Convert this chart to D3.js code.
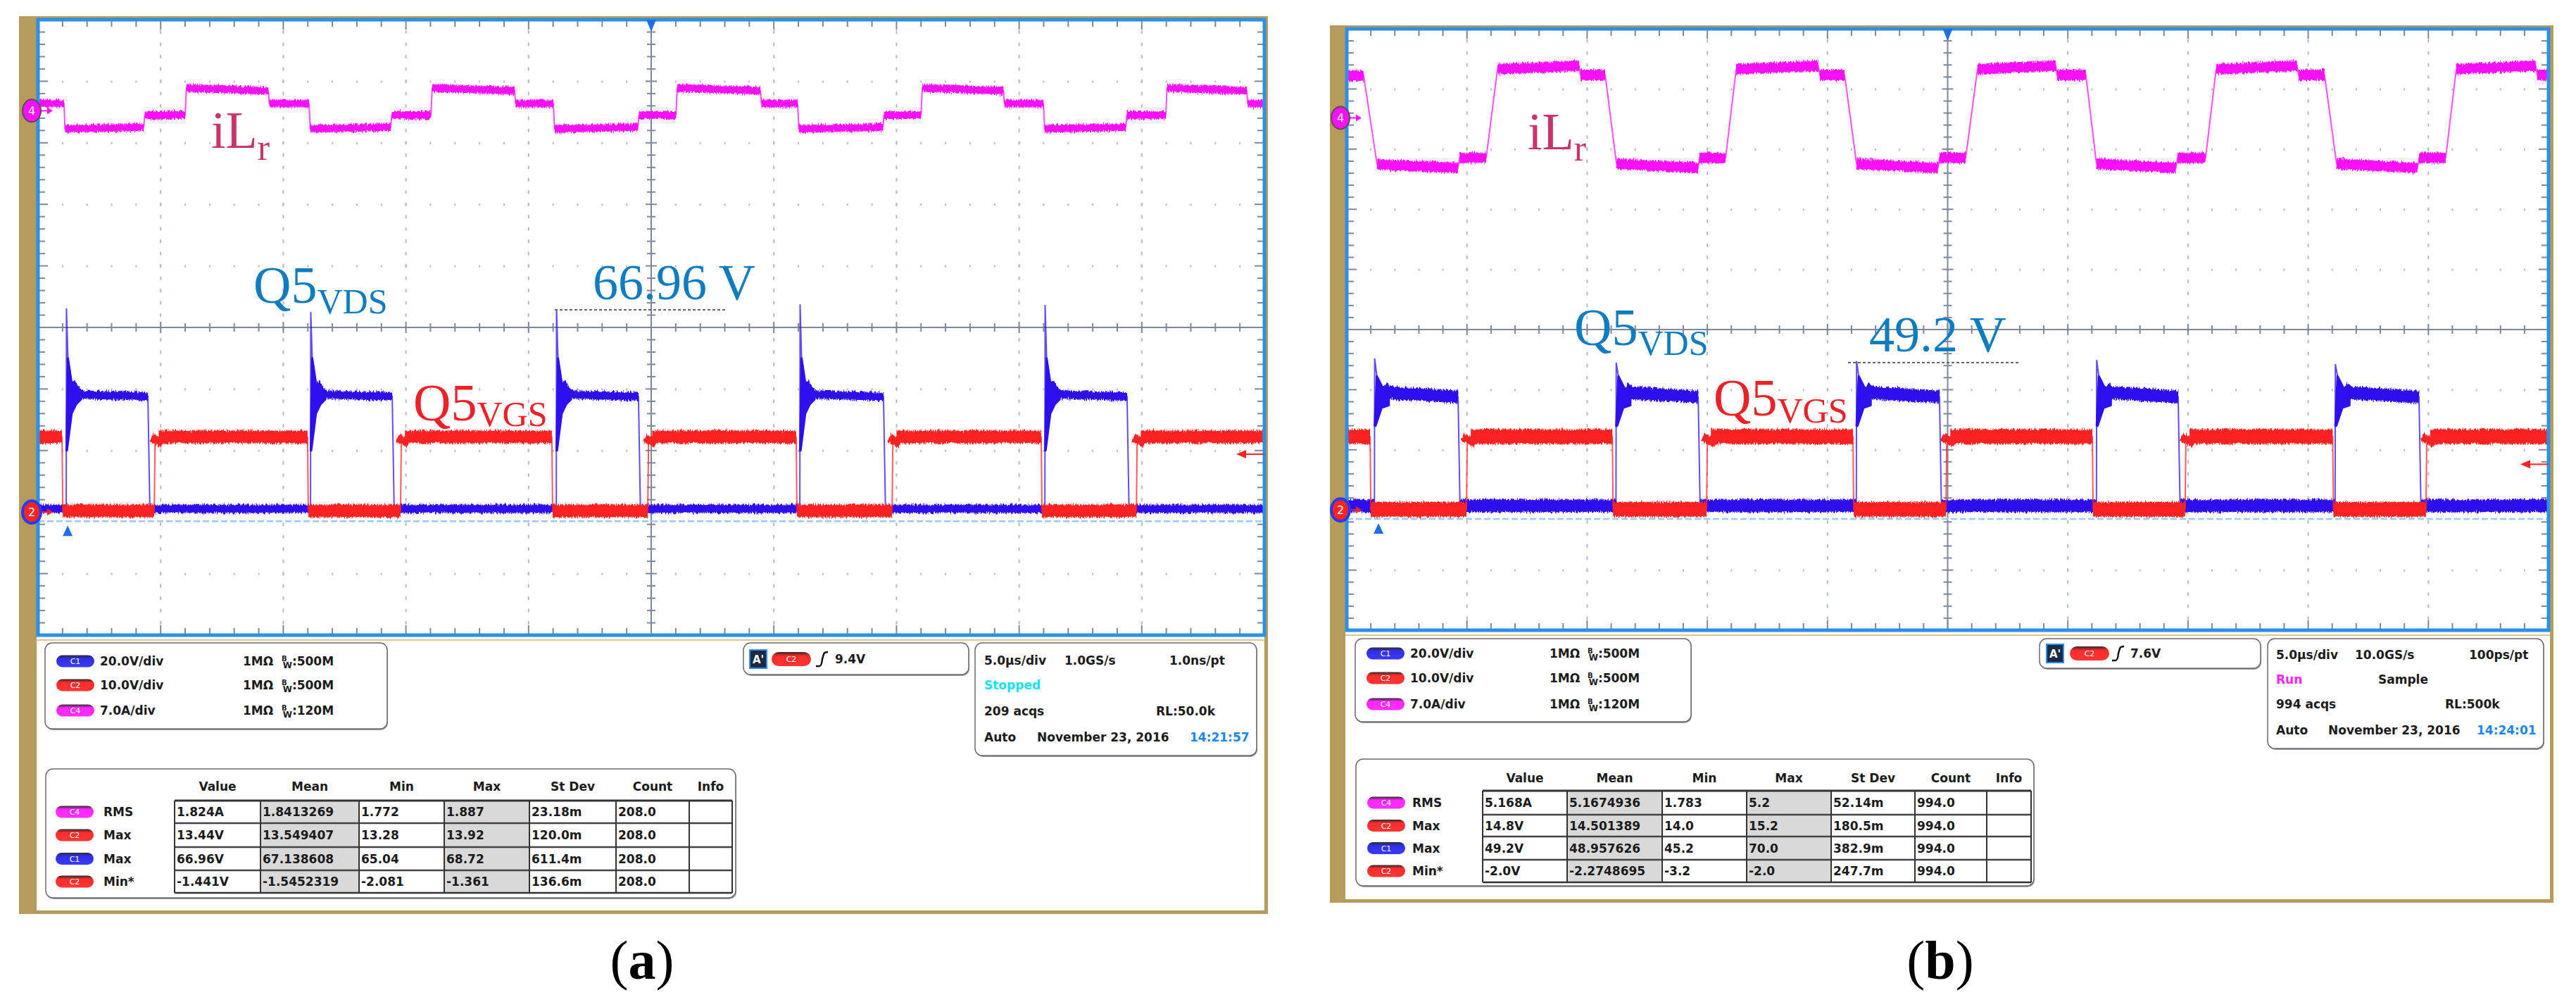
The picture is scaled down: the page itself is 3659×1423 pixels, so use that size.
<!DOCTYPE html>
<html><head><meta charset="utf-8">
<script src="https://cdn.jsdelivr.net/npm/d3@7"></script>
<style>html,body{margin:0;padding:0;background:#fff}svg{display:block}</style>
</head><body>
<script>
// ================= DATA =================
const timeDomain = [0, 50];             // µs across the screen (5.0 µs/div, 10 div)
const channelScale = {C1: 20, C2: 10, C4: 7};   // V/div, V/div, A/div
const channelOffsetDiv = {C1: -3.0, C2: -3.0, C4: 3.52};

// ---- panel (a) ----
const iLrA = [[0,0.85],[1.06,0.85],[1.1,-2.05],[4.31,-1.85],[4.35,-0.5],[6.0,-0.5],[6.05,2.6],[9.39,2.3],[9.43,0.82],[11.05,0.82],
 [11.1,-2.05],[14.38,-1.85],[14.42,-0.5],[16.02,-0.5],[16.07,2.6],[19.43,2.3],[19.47,0.82],[21.01,0.82],
 [21.06,-2.05],[24.46,-1.85],[24.5,-0.5],[26.01,-0.5],[26.06,2.6],[29.45,2.3],[29.49,0.82],[30.97,0.82],
 [31.02,-2.05],[34.45,-1.85],[34.49,-0.5],[36.0,-0.5],[36.05,2.6],[39.36,2.3],[39.4,0.82],[40.99,0.82],
 [41.04,-2.05],[44.35,-1.85],[44.39,-0.5],[45.98,-0.5],[46.03,2.6],[49.28,2.3],[49.32,0.82],[50,0.82]];
const vdsRiseA = [1.15, 11.11, 21.13, 31.06, 41.05];
const vdsFallA = [4.48, 14.44, 24.48, 34.47, 44.40];
const vdsPeakA = [66.2, 65.0, 66.0, 67.5, 67.3];
const vdsPlateauA = [37.4, 37.6];       // start, end of each plateau (V)
const vdsLowA = 1.1;
const ringUpperA = [[0.07,50],[0.22,42],[0.4,39.5],[0.6,38.2]];
const ringLowerA = [[0.03,20],[0.22,32],[0.4,35],[0.6,36.6]];
const vgsFallA = [0.98, 10.99, 20.95, 30.91, 40.9];
const vgsRiseA = [4.74, 14.78, 24.86, 34.82, 44.78];
const vgsHighA = 12.2, vgsLowA = 0.2;
const trigLevelA = 9.4;

// ---- panel (b) ----
const iLrB = [[0,4.92],[0.70,4.92],[1.26,-5.41],[4.63,-5.82],[4.69,-4.67],[5.80,-4.67],[6.27,5.66],[9.67,6.07],[9.72,5.0],[10.75,5.0],
 [11.22,-5.33],[14.62,-5.82],[14.67,-4.67],[15.76,-4.67],[16.20,5.66],[19.62,6.07],[19.68,5.0],[20.71,5.0],
 [21.21,-5.33],[24.60,-5.82],[24.66,-4.67],[25.75,-4.67],[26.24,5.66],[29.50,6.07],[29.55,5.0],[30.75,5.0],
 [31.19,-5.33],[34.50,-5.82],[34.56,-4.67],[35.73,-4.67],[36.17,5.66],[39.54,6.07],[39.60,5.0],[40.68,5.0],
 [41.18,-5.33],[44.55,-5.82],[44.61,-4.67],[45.72,-4.67],[46.16,5.66],[49.47,6.07],[49.53,5.0],[50,5.0]];
const vdsRiseB = [1.15, 11.2, 21.2, 31.19, 41.12];
const vdsFallB = [4.63, 14.62, 24.66, 34.59, 44.61];
const vdsPeakB = [50.4, 49.0, 49.5, 49.9, 48.5];
const vdsPlateauB = [36.3, 37.6];
const vdsLowB = 1.4;
const ringUpperB = [[0.1,44.5],[0.35,40.5],[0.6,39.0]];
const ringLowerB = [[0.05,28],[0.3,34],[0.6,34.8]];
const vgsFallB = [0.97, 11.05, 21.06, 31.02, 41.02];
const vgsRiseB = [4.98, 14.97, 24.93, 34.88, 44.9];
const vgsHighB = 12.2, vgsLowB = 0.1;
const trigLevelB = 7.6;

// ---- readouts ----
const chanRows = [["C1","20.0V/div","500M"],["C2","10.0V/div","500M"],["C4","7.0A/div","120M"]];
const measHeader = ["Value","Mean","Min","Max","St Dev","Count","Info"];
const measA = [
 ["C4","RMS","1.824A","1.8413269","1.772","1.887","23.18m","208.0",""],
 ["C2","Max","13.44V","13.549407","13.28","13.92","120.0m","208.0",""],
 ["C1","Max","66.96V","67.138608","65.04","68.72","611.4m","208.0",""],
 ["C2","Min*","-1.441V","-1.5452319","-2.081","-1.361","136.6m","208.0",""]];
const measB = [
 ["C4","RMS","5.168A","5.1674936","1.783","5.2","52.14m","994.0",""],
 ["C2","Max","14.8V","14.501389","14.0","15.2","180.5m","994.0",""],
 ["C1","Max","49.2V","48.957626","45.2","70.0","382.9m","994.0",""],
 ["C2","Min*","-2.0V","-2.2748695","-3.2","-2.0","247.7m","994.0",""]];
const acqA = [["5.0µs/div","1.0GS/s","1.0ns/pt"],["Stopped",""],["209 acqs","RL:50.0k"],["Auto","November 23, 2016","14:21:57"]];
const acqB = [["5.0µs/div","10.0GS/s","100ps/pt"],["Run","Sample"],["994 acqs","RL:500k"],["Auto","November 23, 2016","14:24:01"]];
const captions = ["a","b"];

// ================= DRAWING =================
const W = 3659, H = 1423;
const TAN = "#b59b5c", BORDER = "#2e8fe6", GRIDC = "#7e879b", DOTC = "#b4b9c6";
const COL = {C1:"#2d10f0", C2:"#ff2424", C4:"#ff10ff"};
const BADGE = {C1:"#2f2fe6", C2:"#ff2b2b", C4:"#ff26ff"};
const FI = "'DejaVu Sans', Arial, sans-serif";
const FS = "'Liberation Serif','Times New Roman',serif";

const svg = d3.select("body").append("svg").attr("width", W).attr("height", H);
svg.append("rect").attr("width", W).attr("height", H).attr("fill", "#fff");
const defs = svg.append("defs");
Object.keys(BADGE).forEach(k => {
  const gr = defs.append("linearGradient").attr("id","bg"+k).attr("x1",0).attr("x2",0).attr("y1",0).attr("y2",1);
  gr.append("stop").attr("offset","0%").attr("stop-color","#2a2a2a");
  gr.append("stop").attr("offset","28%").attr("stop-color",BADGE[k]);
  gr.append("stop").attr("offset","100%").attr("stop-color",d3.color(BADGE[k]).brighter(0.6));
});
// signal-noise texture for the trace bands (rendering style only)
const flt = defs.append("filter").attr("id","fuzz").attr("filterUnits","userSpaceOnUse")
  .attr("x",0).attr("y",0).attr("width",W).attr("height",H);
flt.append("feTurbulence").attr("type","fractalNoise").attr("baseFrequency","0.7 0.15").attr("numOctaves",2).attr("seed",4).attr("result","t");
flt.append("feColorMatrix").attr("in","t").attr("type","matrix")
  .attr("values","0 0 0 0 0.5  0 1 0 0 0  0 0 1 0 0  0 0 0 0 1").attr("result","m");
flt.append("feDisplacementMap").attr("in","SourceGraphic").attr("in2","m").attr("scale",8)
  .attr("xChannelSelector","R").attr("yChannelSelector","G").attr("result","d");
flt.append("feMerge").call(m => { m.append("feMergeNode").attr("in","d"); });

const panels = [
 {frame:[27,23,1801,1298], innerX:52, grid:[54,28,1796,902],
  iL:iLrA, rise:vdsRiseA, fall:vdsFallA, peak:vdsPeakA, plateau:vdsPlateauA, low:vdsLowA,
  ringU:ringUpperA, ringL:ringLowerA, gFall:vgsFallA, gRise:vgsRiseA, gHigh:vgsHighA, gLow:vgsLowA, trig:trigLevelA,
  sw:{C4:11, C1:12, C2:18}, markT:1.21,
  lbl:{iL:[300,210,17], vds:[360,430,15], val:[842,425,"66.96 V"], vgs:[587,597,8], dash:[788,1033,440]},
  chan:{box:[64,913,550,1035], rows:[939,973,1009], bx:80, tx:142, ox:345, wx:400},
  trg:{box:[1056,913,1376,958], cy:936, ax:1065, bx:1096, ex:1159, tx:1186},
  acq:{box:[1385,913,1785,1073], rows:[938,973,1010,1047], data:acqA,
       xs:[[1398,1512,1661],[1398,0],[1398,1642],[1398,1473,1690]]},
  tab:{box:[65,1092,1045,1275], hy:1117, cols:[248,370,510,631,752,875,979,1040], rows:[1137,1169,1203,1236,1268], bx:79, lx:147, data:measA},
  cap:[912,1390]},
 {frame:[1889,36,3627,1282], innerX:1911, grid:[1913,41,3620,895],
  iL:iLrB, rise:vdsRiseB, fall:vdsFallB, peak:vdsPeakB, plateau:vdsPlateauB, low:vdsLowB,
  ringU:ringUpperB, ringL:ringLowerB, gFall:vgsFallB, gRise:vgsRiseB, gHigh:vgsHighB, gLow:vgsLowB, trig:trigLevelB,
  sw:{C4:15, C1:18, C2:21}, markT:1.32,
  lbl:{iL:[2170,212,16], vds:[2236,490,14], val:[2655,499,"49.2 V"], vgs:[2434,590,10], dash:[2625,2870,515]},
  chan:{box:[1925,907,2402,1025], rows:[928,963,1000], bx:1941, tx:2003, ox:2201, wx:2255},
  trg:{box:[2897,907,3211,949], cy:928, ax:2907, bx:2940, ex:3000, tx:3026},
  acq:{box:[3221,907,3613,1063], rows:[930,965,1000,1037], data:acqB,
       xs:[[3233,3345,3507],[3233,3378],[3233,3473],[3233,3307,3518]]},
  tab:{box:[1926,1078,2889,1258], hy:1105, cols:[2106,2226,2361,2481,2601,2720,2822,2885], rows:[1123,1157,1188,1221,1253], bx:1942, lx:2006, data:measB},
  cap:[2756,1390]}
];

function text(g, x, y, s, o={}) {
  return g.append("text").attr("x",x).attr("y",y).attr("font-family",o.ff||FI)
    .attr("font-size",o.fs||17).attr("font-weight",o.fw||"bold").attr("fill",o.fill||"#1b1b1b")
    .attr("text-anchor",o.anchor||"start").text(s);
}
function box(g, b) {
  const [x0,y0,x1,y1] = b;
  g.append("rect").attr("x",x0+1).attr("y",y0+2).attr("width",x1-x0).attr("height",y1-y0).attr("rx",10).attr("fill","#9a9a9a");
  g.append("rect").attr("x",x0).attr("y",y0).attr("width",x1-x0).attr("height",y1-y0).attr("rx",10)
    .attr("fill","#fff").attr("stroke","#6a6a6a").attr("stroke-width",1.5);
}
function badge(g, x, cy, ch, w=54, h=17) {
  g.append("rect").attr("x",x).attr("y",cy-h/2).attr("width",w).attr("height",h).attr("rx",h/2).attr("fill","url(#bg"+ch+")");
  text(g, x+w/2, cy+4, ch, {fs:11, fw:"normal", fill:"#fff", anchor:"middle"});
}

panels.forEach((p, pi) => {
  const g = svg.append("g");
  const [fx0,fy0,fx1,fy1] = p.frame;
  g.append("rect").attr("x",fx0).attr("y",fy0).attr("width",fx1-fx0).attr("height",fy1-fy0).attr("fill",TAN);
  g.append("rect").attr("x",p.innerX).attr("y",fy0+4).attr("width",fx1-5-p.innerX).attr("height",fy1-fy0-9).attr("fill","#fff");
  const [gx0,gy0,gx1,gy1] = p.grid;
  g.append("line").attr("x1",p.innerX).attr("x2",fx1-5).attr("y1",gy1+7).attr("y2",gy1+7).attr("stroke","#d8c89a").attr("stroke-width",2);

  const x = d3.scaleLinear().domain(timeDomain).range([gx0, gx1]);
  const yd = d3.scaleLinear().domain([-5, 5]).range([gy1, gy0]);
  const ych = (ch, v) => yd(channelOffsetDiv[ch] + v / channelScale[ch]);

  // ---- graticule ----
  const gg = g.append("g");
  const minorY = d3.range(-5, 5.0001, 0.2), minorT = d3.range(0, 50.0001, 1);
  d3.range(5, 50, 5).filter(t => t !== 25).forEach(t => {
    gg.selectAll(null).data(minorY.slice(1,-1)).join("rect")
      .attr("x", x(t)-1).attr("y", v => yd(v)-2.5).attr("width",2).attr("height",5).attr("fill",DOTC);
  });
  d3.range(-4, 5, 1).filter(v => v !== 0).forEach(v => {
    gg.selectAll(null).data(minorT.slice(1,-1)).join("rect")
      .attr("x", t => x(t)-1).attr("y", yd(v)-1).attr("width",2).attr("height",3).attr("fill",DOTC);
  });
  gg.append("line").attr("x1",x(25)).attr("x2",x(25)).attr("y1",gy0).attr("y2",gy1).attr("stroke",GRIDC).attr("stroke-width",2);
  gg.append("line").attr("x1",gx0).attr("x2",gx1).attr("y1",yd(0)).attr("y2",yd(0)).attr("stroke",GRIDC).attr("stroke-width",2);
  const isMajT = t => Math.abs(t/5 - Math.round(t/5)) < 1e-6;
  const isMajV = v => Math.abs(v - Math.round(v)) < 1e-6;
  minorT.slice(1,-1).forEach(t => {
    const L = isMajT(t) ? 14 : 10, c = isMajT(t) ? 8 : 6;
    gg.append("line").attr("x1",x(t)).attr("x2",x(t)).attr("y1",gy0).attr("y2",gy0+L).attr("stroke",GRIDC).attr("stroke-width",2);
    gg.append("line").attr("x1",x(t)).attr("x2",x(t)).attr("y1",gy1).attr("y2",gy1-L).attr("stroke",GRIDC).attr("stroke-width",2);
    gg.append("line").attr("x1",x(t)).attr("x2",x(t)).attr("y1",yd(0)-c).attr("y2",yd(0)+c).attr("stroke",GRIDC).attr("stroke-width",2);
  });
  minorY.slice(1,-1).forEach(v => {
    const L = isMajV(v) ? 14 : 10, c = isMajV(v) ? 8 : 6;
    gg.append("line").attr("x1",gx0).attr("x2",gx0+L).attr("y1",yd(v)).attr("y2",yd(v)).attr("stroke",GRIDC).attr("stroke-width",2);
    gg.append("line").attr("x1",gx1).attr("x2",gx1-L).attr("y1",yd(v)).attr("y2",yd(v)).attr("stroke",GRIDC).attr("stroke-width",2);
    gg.append("line").attr("x1",x(25)-c).attr("x2",x(25)+c).attr("y1",yd(v)).attr("y2",yd(v)).attr("stroke",GRIDC).attr("stroke-width",2);
  });
  gg.append("line").attr("x1",gx0).attr("x2",gx1).attr("y1",yd(-3.15)).attr("y2",yd(-3.15))
    .attr("stroke","#9ccaf2").attr("stroke-width",2.5).attr("stroke-dasharray","9,4");

  // ---- traces ----
  const line = d3.line().x(d => d[0]).y(d => d[1]);
  function drawTrace(pts, color, sw) {
    g.append("path").attr("d", line(pts)).attr("fill","none").attr("stroke",color).attr("stroke-width",2).attr("stroke-opacity",0.75);
    const band = g.append("g").attr("filter","url(#fuzz)");
    for (let i = 0; i < pts.length-1; i++) {
      const a = pts[i], b = pts[i+1];
      if (Math.abs(b[1]-a[1]) < 12 && b[0]-a[0] > 2)
        band.append("line").attr("x1",a[0]).attr("y1",a[1]).attr("x2",b[0]).attr("y2",b[1])
          .attr("stroke",color).attr("stroke-width",sw).attr("stroke-linecap","butt");
    }
  }
  drawTrace(p.iL.map(d => [x(d[0]), ych("C4", d[1])]), COL.C4, p.sw.C4);
  // C1 drain-source voltage
  const c1 = [[0, p.low]];
  p.rise.forEach((r, i) => {
    c1.push([r, p.low], [r + 0.01, p.peak[i]]);
    p.ringU.forEach(d => c1.push([r + d[0], d[1]]));
    c1.push([p.fall[i], p.plateau[1]], [p.fall[i] + 0.08, p.low]);
  });
  c1.push([50, p.low]);
  drawTrace(c1.map(d => [x(d[0]), ych("C1", d[1])]), COL.C1, p.sw.C1);
  p.rise.forEach(r => {
    const poly = [[r + 0.01, p.ringL[0][1]]].concat(p.ringU.map(d => [r + d[0], d[1]])).concat(p.ringL.slice().reverse().map(d => [r + d[0], d[1]]));
    g.append("path").attr("d", line(poly.map(d => [x(d[0]), ych("C1", d[1])])) + "Z").attr("fill", COL.C1)
      .attr("stroke", COL.C1).attr("stroke-width", 3).attr("stroke-linejoin","round");
  });
  // C2 gate voltage
  const c2 = [[0, p.gHigh]];
  p.gFall.forEach((f, i) => {
    c2.push([f, p.gHigh], [f + 0.03, p.gLow], [p.gRise[i], p.gLow], [p.gRise[i] + 0.03, p.gHigh * 0.9], [p.gRise[i] + 0.18, p.gHigh]);
  });
  c2.push([50, p.gHigh]);
  drawTrace(c2.map(d => [x(d[0]), ych("C2", d[1])]), COL.C2, p.sw.C2);

  // border
  g.append("rect").attr("x",gx0).attr("y",gy0).attr("width",gx1-gx0).attr("height",gy1-gy0)
    .attr("fill","none").attr("stroke",BORDER).attr("stroke-width",5);

  const tx = x(25);
  g.append("path").attr("d",`M${tx-7},${gy0}L${tx+7},${gy0}L${tx},${gy0+17}Z`).attr("fill","#1f6fe6");
  const mx = x(p.markT), my = yd(-3.15) + 6;
  g.append("path").attr("d",`M${mx-7},${my+15}L${mx+7},${my+15}L${mx},${my}Z`).attr("fill","#1f6fe6");
  const ty = ych("C2", p.trig);
  g.append("line").attr("x1",gx1-28).attr("x2",gx1).attr("y1",ty).attr("y2",ty).attr("stroke",COL.C2).attr("stroke-width",2);
  g.append("path").attr("d",`M${gx1-40},${ty}L${gx1-26},${ty-6}L${gx1-26},${ty+6}Z`).attr("fill",COL.C2);
  const mkx = gx0 - 9;
  [["C4","4"],["C2","2"]].forEach(([ch, lab]) => {
    const y0 = ych(ch, 0);
    g.append("line").attr("x1",mkx+12).attr("x2",mkx+26).attr("y1",y0).attr("y2",y0).attr("stroke",COL[ch]).attr("stroke-width",2);
    g.append("path").attr("d",`M${mkx+30},${y0}L${mkx+22},${y0-5}L${mkx+22},${y0+5}Z`).attr("fill",COL[ch]);
    g.append("ellipse").attr("cx",mkx).attr("cy",y0).attr("rx",13).attr("ry",16).attr("fill",COL[ch])
      .attr("stroke", ch === "C2" ? "#2a3af0" : "#5a4a5a").attr("stroke-width", ch === "C2" ? 4 : 2);
    text(g, mkx, y0+6, lab, {fs:16, fw:"normal", fill:"#fff", anchor:"middle"});
  });

  // ---- annotations ----
  const L = p.lbl;
  const tl = g.append("text").attr("x",L.iL[0]).attr("y",L.iL[1]).attr("font-family",FS).attr("fill","#c8356c").attr("font-size",74);
  tl.append("tspan").text("iL");
  tl.append("tspan").attr("font-size",52).attr("dy",L.iL[2]).text("r");
  const tv = g.append("text").attr("x",L.vds[0]).attr("y",L.vds[1]).attr("font-family",FS).attr("fill","#0f7cc0").attr("font-size",74);
  tv.append("tspan").text("Q5");
  tv.append("tspan").attr("font-size",50).attr("dy",L.vds[2]).text("VDS");
  text(g, L.val[0], L.val[1], L.val[2], {ff:FS, fs:72, fw:"normal", fill:"#0f7cc0"});
  g.append("line").attr("x1",L.dash[0]).attr("x2",L.dash[1]).attr("y1",L.dash[2]).attr("y2",L.dash[2])
    .attr("stroke","#666").attr("stroke-width",2).attr("stroke-dasharray","4,3");
  const tg = g.append("text").attr("x",L.vgs[0]).attr("y",L.vgs[1]).attr("font-family",FS).attr("fill","#ee2226").attr("font-size",74);
  tg.append("tspan").text("Q5");
  tg.append("tspan").attr("font-size",50).attr("dy",L.vgs[2]).text("VGS");

  // ---- channel box ----
  const C = p.chan;
  box(g, C.box);
  chanRows.forEach((r, i) => {
    const cy = C.rows[i];
    badge(g, C.bx, cy, r[0]);
    text(g, C.tx, cy+6, r[1]);
    text(g, C.ox, cy+6, "1MΩ");
    const t = text(g, C.wx, cy+6, "");
    t.append("tspan").attr("font-size",10).attr("dy",-6).text("B");
    t.append("tspan").attr("font-size",12).attr("dy",10).attr("dx",-6).text("W");
    t.append("tspan").attr("font-size",17).attr("dy",-4).text(":" + r[2]);
  });
  // ---- trigger box ----
  const T = p.trg;
  box(g, T.box);
  g.append("rect").attr("x",T.ax).attr("y",T.cy-13).attr("width",24).attr("height",26).attr("fill","#1c2a44").attr("stroke",BORDER).attr("stroke-width",2);
  text(g, T.ax+12, T.cy+6, "A'", {fs:15, fill:"#fff", anchor:"middle"});
  badge(g, T.bx, T.cy, "C2", 56, 20);
  g.append("path").attr("d",`M${T.ex},${T.cy+10}L${T.ex+5},${T.cy+10}Q${T.ex+8},${T.cy+10} ${T.ex+9},${T.cy}L${T.ex+11},${T.cy-7}Q${T.ex+12},${T.cy-10} ${T.ex+17},${T.cy-10}`)
    .attr("fill","none").attr("stroke","#111").attr("stroke-width",2.5);
  text(g, T.tx, T.cy+6, p.trig.toFixed(1) + "V");
  // ---- acquisition box ----
  const A = p.acq;
  box(g, A.box);
  A.data.forEach((row, ri) => row.forEach((s, ci) => {
    if (!s) return;
    let fill = "#1b1b1b";
    if (ri === 1 && ci === 0) fill = s === "Run" ? "#ff22ff" : "#12e4ee";
    if (ri === 3 && ci === 2) fill = "#1a86f0";
    text(g, A.xs[ri][ci], A.rows[ri]+6, s, {fill});
  }));
  // ---- measurement table ----
  const Tb = p.tab;
  box(g, Tb.box);
  const cols = Tb.cols, rows = Tb.rows;
  measHeader.forEach((h, i) => text(g, (cols[i]+cols[i+1])/2, Tb.hy+6, h, {anchor:"middle"}));
  [1,3].forEach(ci => g.append("rect").attr("x",cols[ci]).attr("y",rows[0]).attr("width",cols[ci+1]-cols[ci]).attr("height",rows[4]-rows[0]).attr("fill","#d9d9d9"));
  rows.forEach((ry, i) => g.append("line").attr("x1",cols[0]).attr("x2",cols[7]).attr("y1",ry).attr("y2",ry).attr("stroke", i===0||i===4 ? "#333" : "#444").attr("stroke-width", i===0 ? 3 : 2.5));
  cols.forEach(cx => g.append("line").attr("x1",cx).attr("x2",cx).attr("y1",rows[0]).attr("y2",rows[4]).attr("stroke","#333").attr("stroke-width",2));
  Tb.data.forEach((r, i) => {
    const cy = (rows[i] + rows[i+1]) / 2;
    badge(g, Tb.bx, cy, r[0]);
    text(g, Tb.lx, cy+6, r[1]);
    r.slice(2).forEach((v, j) => { if (v) text(g, cols[j]+3, cy+6, v); });
  });
  // ---- caption ----
  const cp = g.append("text").attr("x",p.cap[0]).attr("y",p.cap[1]).attr("text-anchor","middle").attr("font-family",FS).attr("font-size",78).attr("fill","#000");
  cp.append("tspan").text("(");
  cp.append("tspan").attr("font-weight","bold").text(captions[pi]);
  cp.append("tspan").text(")");
});
</script>
</body></html>
